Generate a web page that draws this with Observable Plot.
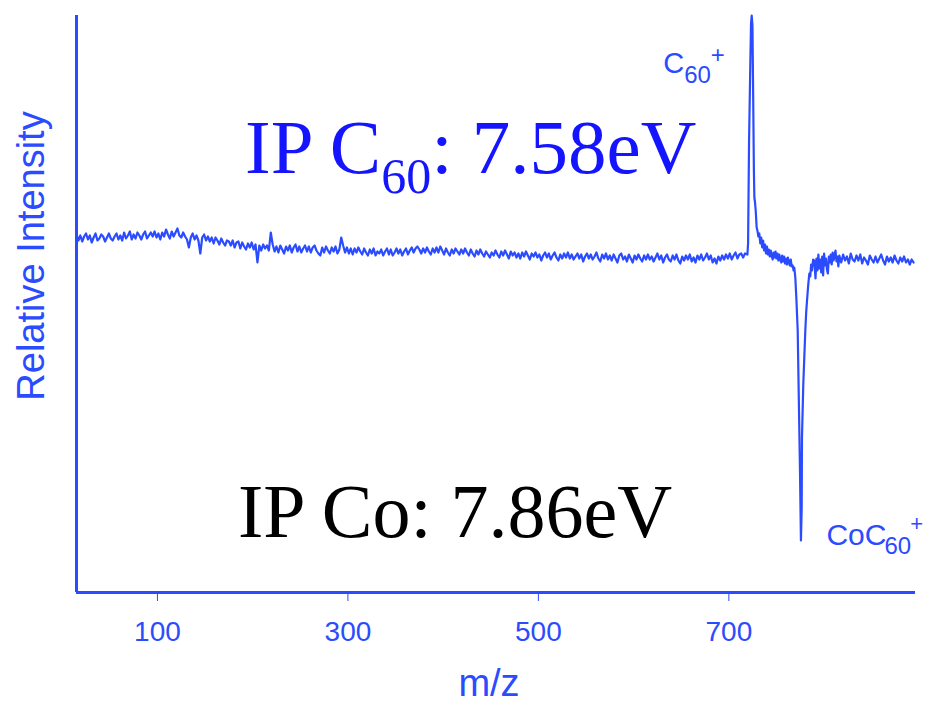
<!DOCTYPE html>
<html>
<head>
<meta charset="utf-8">
<script src="https://cdn.jsdelivr.net/npm/d3@7"></script>
<script src="https://cdn.jsdelivr.net/npm/@observablehq/plot@0.6"></script>
<style>
  html, body { margin: 0; padding: 0; background: #fff; }
  #chart svg { display: block; }
</style>
</head>
<body>
<div id="chart"></div>
<script>
// Difference mass spectrum: C60+ appears, CoC60+ is depleted.
const mzDomain = [15, 896];
const intensityDomain = [-342, 235];
const mzTicks = [100, 300, 500, 700];

// Low-mass baseline, sampled every 2 m/z from m/z 15 to 717 (arbitrary counts)
const baselineMz0 = 15;
const baselineStep = 2;
const baselineCounts = [
  16,10,15,9,14,17,11,15,8,13,17,10,12,16,14,9,13,17,12,10,
  14,17,11,15,10,18,12,15,19,11,16,12,18,15,11,16,19,12,15,18,
  14,19,13,17,11,18,14,21,16,12,19,14,18,22,15,13,18,14,11,3,
  13,17,11,15,10,-3,13,16,10,14,9,13,7,13,10,6,12,8,5,10,
  9,5,10,3,8,9,2,8,4,1,7,3,8,1,6,-12,5,0,6,2,
  5,0,18,6,-1,4,-2,5,1,-3,4,0,5,-2,3,6,-1,4,-2,2,
  5,-1,4,-2,3,5,0,-3,-5,3,-2,4,0,-3,3,-1,4,-3,1,13,
  5,-2,3,-3,2,-4,2,-2,3,-1,-4,2,-2,-5,1,-3,2,-5,-1,-3,
  1,-5,-1,2,-4,1,-5,-2,2,-3,1,-5,-1,2,-4,0,3,-2,2,4,
  1,-3,2,-2,3,-1,-4,2,-2,3,-2,4,0,-4,2,-2,-5,1,-3,2,
  -1,-4,1,-3,2,-2,-5,1,-3,-6,0,-4,1,-3,-6,-1,-4,-7,-2,-5,
  0,-4,-7,-1,-5,0,-4,-8,-1,-5,-2,-7,-3,-8,-2,-6,-1,-5,-9,-3,
  -6,-2,-7,-4,-10,-5,-2,-7,-3,-9,-5,-2,-7,-10,-4,-8,-3,-7,-2,-8,
  -4,-9,-6,-3,-8,-4,-11,-6,-3,-8,-4,-9,-6,-2,-8,-11,-4,-8,-3,-9,
  -5,-10,-4,-8,-12,-5,-3,-9,-6,-11,-4,-8,-12,-5,-9,-4,-8,-11,-5,-9,
  -4,-9,-6,-11,-7,-3,-9,-5,-12,-7,-4,-9,-11,-5,-9,-4,-10,-13,-6,-10,
  -5,-9,-4,-11,-7,-12,-5,-9,-4,-10,-7,-3,-9,-5,-12,-8,-13,-6,-10,-5,
  -9,-4,-8,-3,-9,-5,-2,-8,-4,-3,-7,-3
];

// C60+ peak and its tail, [m/z, counts]
const c60Peak = [
  [719.5,-4],[720.2,7],[721.2,107],[722.6,190],[723.3,227],[724,235],
  [724.8,225],[725.6,150],[726.3,80],[726.8,53],[727.5,48],[728.2,40],
  [729.2,23],[730,20],[731,14],[732,17],[733,7],[734,13],[735,3],[736,10],
  [737,0],[738,6],[739,-3],[740,4],[741,-4],[742,1],[743,-6],[744,0],
  [745,-5],[746,-9],[747,-2],[748,-7],[749,-1],[750,-8],[751,-3],[752,-10],
  [753,-4],[754,-9],[755,-12],[756,-5],[757,-11],[758,-6],[759,-13],
  [760,-8],[761,-14],[762,-7],[763,-12],[764,-15],[765,-9],[766,-16]
];

// CoC60+ depletion and recovery, [m/z, counts]
const cocDip = [
  [767,-15],[768,-20],[768.7,-17],[769.8,-27],[771,-50],[772.3,-80],
  [773.5,-150],[774.7,-220],[775.7,-290],[776.5,-257],[776.8,-187],
  [778.2,-133],[779.3,-105],[780.3,-80],[781.2,-62],[782.1,-50],
  [783.3,-35],[784.5,-23],[785.5,-26],[786.4,-14],[787.3,-20],[788.5,-9],
  [789.7,-10],[790,-14],[791,-28],[792,-8],[793,-20],[794,-4],[795,-18],
  [796,-9],[797,-22],[798,-6],[799,-25],[800,-3],[801,-15],[802,-8],
  [803,-19],[804,-23],[805,-6],[806,-12],[807,-4],[808,-14],[809,-2],
  [810,-10],[811,-5],[812,0],[813,-11],[814,-6],[815,-16]
];

// High-mass baseline, sampled every 2 m/z from m/z 816 to 894
const tailMz0 = 816;
const tailStep = 2;
const tailCounts = [
  -5,-12,-4,-10,-6,-13,-3,-9,-11,-5,-10,-4,-13,-7,-10,-14,-5,-9,-12,-6,
  -12,-8,-4,-10,-14,-6,-11,-7,-12,-5,-10,-13,-7,-11,-6,-12,-9,-14,-9,-12
];

const BLUE = "#2b4bff";

const spectrum = [
  ...baselineCounts.map((c, i) => ({mz: baselineMz0 + i * baselineStep, counts: c})),
  ...c60Peak.map(([mz, c]) => ({mz, counts: c})),
  ...cocDip.map(([mz, c]) => ({mz, counts: c})),
  ...tailCounts.map((c, i) => ({mz: tailMz0 + i * tailStep, counts: c}))
];

const plot = Plot.plot({
  width: 925,
  height: 704,
  marginLeft: 76,
  marginRight: 10,
  marginTop: 15,
  marginBottom: 112,
  x: {domain: mzDomain},
  y: {domain: intensityDomain, axis: null},
  style: {background: "#fff", fontFamily: "'Liberation Sans', Arial, sans-serif", overflow: "visible"},
  marks: [
    Plot.line(spectrum, {x: "mz", y: "counts", stroke: BLUE, strokeWidth: 2.2}),
    Plot.ruleX([mzDomain[0]], {stroke: BLUE, strokeWidth: 3}),
    Plot.ruleY([intensityDomain[0]], {stroke: BLUE, strokeWidth: 3}),
    Plot.axisX({ticks: mzTicks, tickSize: 9, tickPadding: 20, fontSize: 28, color: BLUE, label: null}),
    Plot.text(["m/z"], {frameAnchor: "bottom", text: d => d, dx: -7, dy: 103, fontSize: 38, fill: BLUE}),
    Plot.text(["Relative Intensity"], {frameAnchor: "left", text: d => d, textAnchor: "middle", rotate: -90, dx: -45, dy: -48, fontSize: 38, fill: BLUE})
  ]
});

document.getElementById("chart").appendChild(plot);

// Rich-text annotations (sub/superscripts) layered on the plot
const svg = d3.select(plot);
const xs = plot.scale("x"), ys = plot.scale("y");

function richText(x, y, family, fill, parts) {
  const t = svg.append("text")
    .attr("x", x).attr("y", y)
    .attr("text-anchor", "start")
    .attr("font-family", family)
    .attr("fill", fill)
    .style("white-space", "pre");
  for (const p of parts) {
    const s = t.append("tspan").attr("font-size", p.size).text(p.text);
    if (p.dx) s.attr("dx", p.dx);
    if (p.dy) s.attr("dy", p.dy);
  }
}

const SERIF = "'Liberation Serif', 'Times New Roman', serif";
const SANS = "'Liberation Sans', Arial, sans-serif";

richText(245, 173, SERIF, "#1414ff", [
  {text: "IP C", size: 77},
  {text: "60", size: 50, dy: 20},
  {text: ": 7.58eV", size: 77, dy: -20}
]);

richText(238, 537, SERIF, "#000", [
  {text: "IP Co: 7.86eV", size: 76}
]);

richText(xs.apply(724) - 88, ys.apply(235) + 58, SANS, BLUE, [
  {text: "C", size: 29},
  {text: "60", size: 24, dy: 10},
  {text: "+", size: 24, dy: -20}
]);

richText(xs.apply(775.7) + 26, ys.apply(-290) + 5, SANS, BLUE, [
  {text: "CoC", size: 30},
  {text: "60", size: 24, dx: -2, dy: 9},
  {text: "+", size: 22, dx: -1, dy: -23}
]);
</script>
</body>
</html>
